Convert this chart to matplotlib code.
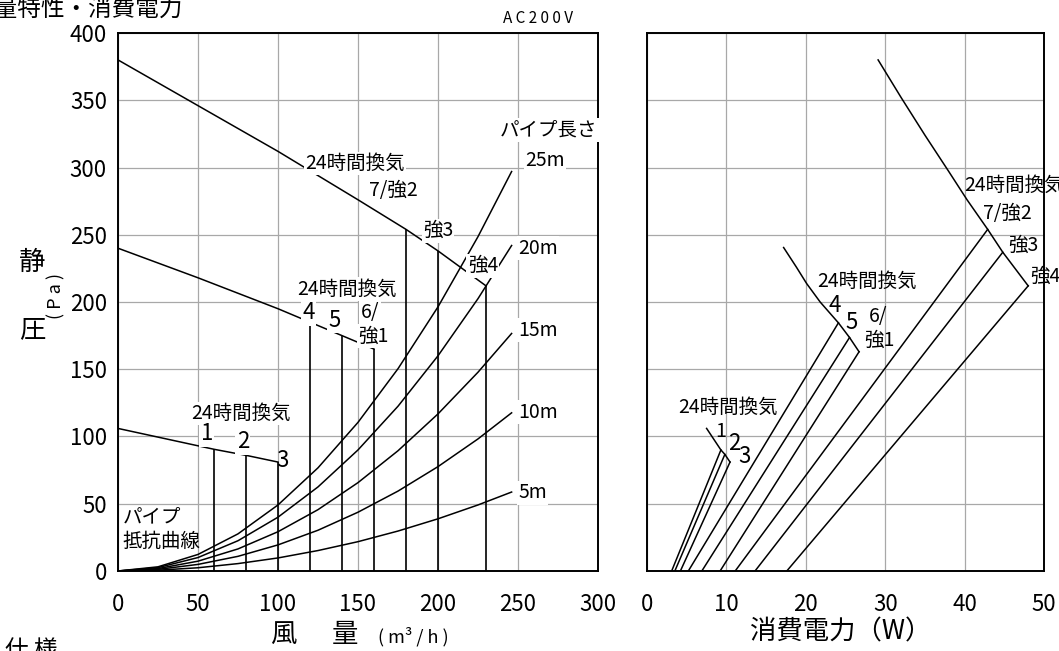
import matplotlib
matplotlib.use("Agg")
import matplotlib.pyplot as plt

JP = ['Noto Sans CJK JP', 'DejaVu Sans']
plt.rcParams['font.family'] = JP

# ---- left chart: static pressure vs air volume ----
# fan curves (air volume m3/h, static pressure Pa)
fan_hi_x = [0, 50, 100, 150, 180, 200, 230]
fan_hi_y = [380, 346, 312, 276, 254, 238, 212]
fan_mid_x = [0, 50, 100, 120, 140, 160]
fan_mid_y = [240, 218, 195, 185, 175, 165]
fan_lo_x = [0, 60, 80, 100]
fan_lo_y = [106, 90.5, 86, 81]

# operating points (vertical lines)
op_x = [60, 80, 100, 120, 140, 160, 180, 200, 230]
op_y = [90.5, 86, 81, 185, 175, 165, 254, 238, 212]

# pipe resistance curves
pipe_x = [0, 25, 50, 75, 100, 125, 150, 175, 200, 225, 246]
pipe_5 = [0, 0.6, 2.4, 5.5, 9.7, 15.2, 21.8, 29.7, 38.8, 49.1, 58.7]
pipe_10 = [0, 1.2, 4.9, 10.9, 19.4, 30.3, 43.7, 59.4, 77.6, 98.2, 117.6]
pipe_15 = [0, 1.8, 7.3, 16.4, 29.2, 45.6, 65.7, 89.4, 116.8, 147.8, 176.6]
pipe_20 = [0, 2.5, 10, 22.5, 40, 62.5, 90, 122.5, 160, 202.5, 242]
pipe_25 = [0, 3.1, 12.3, 27.6, 49.1, 76.7, 110.5, 150.4, 196.4, 248.6, 297]
pipe_labels = ['5m', '10m', '15m', '20m', '25m']

# ---- right chart: static pressure vs power consumption ----
env_hi_w = [29.1, 32.0, 35.0, 38.0, 40.3, 42.9, 44.8, 48.0]
env_hi_p = [380, 352, 324, 297, 276, 254, 237, 212]
env_mid_w = [17.2, 18.8, 20.1, 21.8, 24.1, 25.5, 26.7]
env_mid_p = [240.5, 226, 213.7, 200, 184.5, 173.6, 163]
env_lo_w = [7.5, 9.3, 9.8, 10.45]
env_lo_p = [106, 90, 86.7, 81]

# power lines: W at 0 Pa -> W at operating point
pw_start = [3.1, 3.5, 4.2, 5.2, 6.9, 9.2, 11.1, 13.6, 17.6]
pw_end = [9.3, 9.8, 10.45, 24.1, 25.5, 26.7, 42.9, 44.8, 48.0]
pw_p = [90, 86.7, 81, 184.5, 173.6, 163, 254, 237, 212]

fig = plt.figure(figsize=(10.59, 6.51), dpi=100)
ax1 = fig.add_axes([0.1114, 0.1229, 0.4533, 0.8264])
ax2 = fig.add_axes([0.6110, 0.1229, 0.3749, 0.8264])

lk = dict(color='black', lw=1.1)
ax1.plot(fan_hi_x, fan_hi_y, **lk)
ax1.plot(fan_mid_x, fan_mid_y, **lk)
ax1.plot(fan_lo_x, fan_lo_y, **lk)
ax1.vlines(op_x, 0, op_y, colors='black', lw=1.2)
for yy in [pipe_5, pipe_10, pipe_15, pipe_20, pipe_25]:
    ax1.plot(pipe_x, yy, **lk)

ax2.plot(env_hi_w, env_hi_p, **lk)
ax2.plot(env_mid_w, env_mid_p, **lk)
ax2.plot(env_lo_w, env_lo_p, **lk)
for w0, w1, p in zip(pw_start, pw_end, pw_p):
    ax2.plot([w0, w1], [0, p], **lk)

for ax, xmax, xt in [(ax1, 300, range(0, 301, 50)), (ax2, 50, range(0, 51, 10))]:
    ax.set_xlim(0, xmax)
    ax.set_ylim(0, 400)
    ax.set_xticks(list(xt))
    ax.set_yticks(range(0, 401, 50))
    ax.grid(True, color='#a8a8a8', lw=0.9)
    ax.set_axisbelow(True)
    ax.tick_params(length=0, labelsize=16, pad=16)
    ax.tick_params(axis='y', pad=8)
    for s in ax.spines.values():
        s.set_linewidth(1.4)
ax2.set_yticklabels([])

bb = dict(facecolor='white', edgecolor='none', pad=1)
fs = 14
# left annotations
ax1.text(269, 328, 'パイプ長さ', fontsize=fs, ha='center', va='center', bbox=bb)
ax1.text(267, 305, '25m', fontsize=fs, ha='center', va='center', bbox=bb)
lab_y = [58, 118, 179, 240]
for lab, yy in zip(pipe_labels[:4], lab_y):
    ax1.text(250, yy, lab, fontsize=fs, ha='left', va='center', bbox=bb)
ax1.text(148, 303, '24時間換気', fontsize=fs, ha='center', va='center', bbox=bb)
ax1.text(172, 283, '7/強2', fontsize=fs, ha='center', va='center', bbox=bb)
ax1.text(200, 253, '強3', fontsize=fs, ha='center', va='center', bbox=bb)
ax1.text(228, 227, '強4', fontsize=fs, ha='center', va='center', bbox=bb)
ax1.text(143, 209.5, '24時間換気', fontsize=fs, ha='center', va='center', bbox=bb)
ax1.text(119, 192, '4', fontsize=fs + 2, ha='center', va='center', bbox=bb)
ax1.text(135.6, 186.5, '5', fontsize=fs + 2, ha='center', va='center', bbox=bb)
ax1.text(157.5, 192, '6/', fontsize=fs, ha='center', va='center', bbox=bb)
ax1.text(159.5, 174.6, '強1', fontsize=fs, ha='center', va='center', bbox=bb)
ax1.text(77, 117, '24時間換気', fontsize=fs, ha='center', va='center', bbox=bb)
ax1.text(55.6, 102, '1', fontsize=fs + 2, ha='center', va='center', bbox=bb)
ax1.text(78, 96, '2', fontsize=fs + 2, ha='center', va='center', bbox=bb)
ax1.text(103, 82.5, '3', fontsize=fs + 2, ha='center', va='center')
ax1.text(3, 40, 'パイプ', fontsize=fs, ha='left', va='center')
ax1.text(3, 22, '抵抗曲線', fontsize=fs, ha='left', va='center')

# right annotations
ax2.text(40, 287, '24時間換気', fontsize=fs, ha='left', va='center', clip_on=False)
ax2.text(42.3, 266, '7/強2', fontsize=fs, ha='left', va='center')
ax2.text(45.5, 242, '強3', fontsize=fs, ha='left', va='center')
ax2.text(48.2, 219, '強4', fontsize=fs, ha='left', va='center')
ax2.text(21.4, 215, '24時間換気', fontsize=fs, ha='left', va='center')
ax2.text(23.7, 197.6, '4', fontsize=fs + 2, ha='center', va='center')
ax2.text(25.8, 185, '5', fontsize=fs + 2, ha='center', va='center')
ax2.text(29.1, 189, '6/', fontsize=fs, ha='center', va='center')
ax2.text(29.3, 171.6, '強1', fontsize=fs, ha='center', va='center')
ax2.text(3.9, 122, '24時間換気', fontsize=fs, ha='left', va='center')
ax2.text(9.3, 103.5, '1', fontsize=fs, ha='center', va='center')
ax2.text(11.0, 95, '2', fontsize=fs + 2, ha='center', va='center')
ax2.text(12.3, 85, '3', fontsize=fs + 2, ha='center', va='center')

# axis titles and headers
fig.text(-0.028, 0.985, '風量特性・消費電力', fontsize=17, ha='left', va='center')
fig.text(0.508, 0.972, 'A C 2 0 0 V', fontsize=11, ha='center', va='center')
fig.text(0.030, 0.597, '静', fontsize=19, ha='center', va='center')
fig.text(0.030, 0.493, '圧', fontsize=19, ha='center', va='center')
fig.text(0.053, 0.545, '( P a )', fontsize=13, rotation=90, ha='center', va='center')
fig.text(0.267, 0.025, '風', fontsize=19, ha='center', va='center')
fig.text(0.326, 0.025, '量', fontsize=19, ha='center', va='center')
fig.text(0.390, 0.022, '( m³ / h )', fontsize=13, ha='center', va='center')
fig.text(0.794, 0.030, '消費電力（W）', fontsize=19, ha='center', va='center')
fig.text(0.005, 0.001, '仕 様', fontsize=17, ha='left', va='center')

fig.savefig('out.png', dpi=100)
